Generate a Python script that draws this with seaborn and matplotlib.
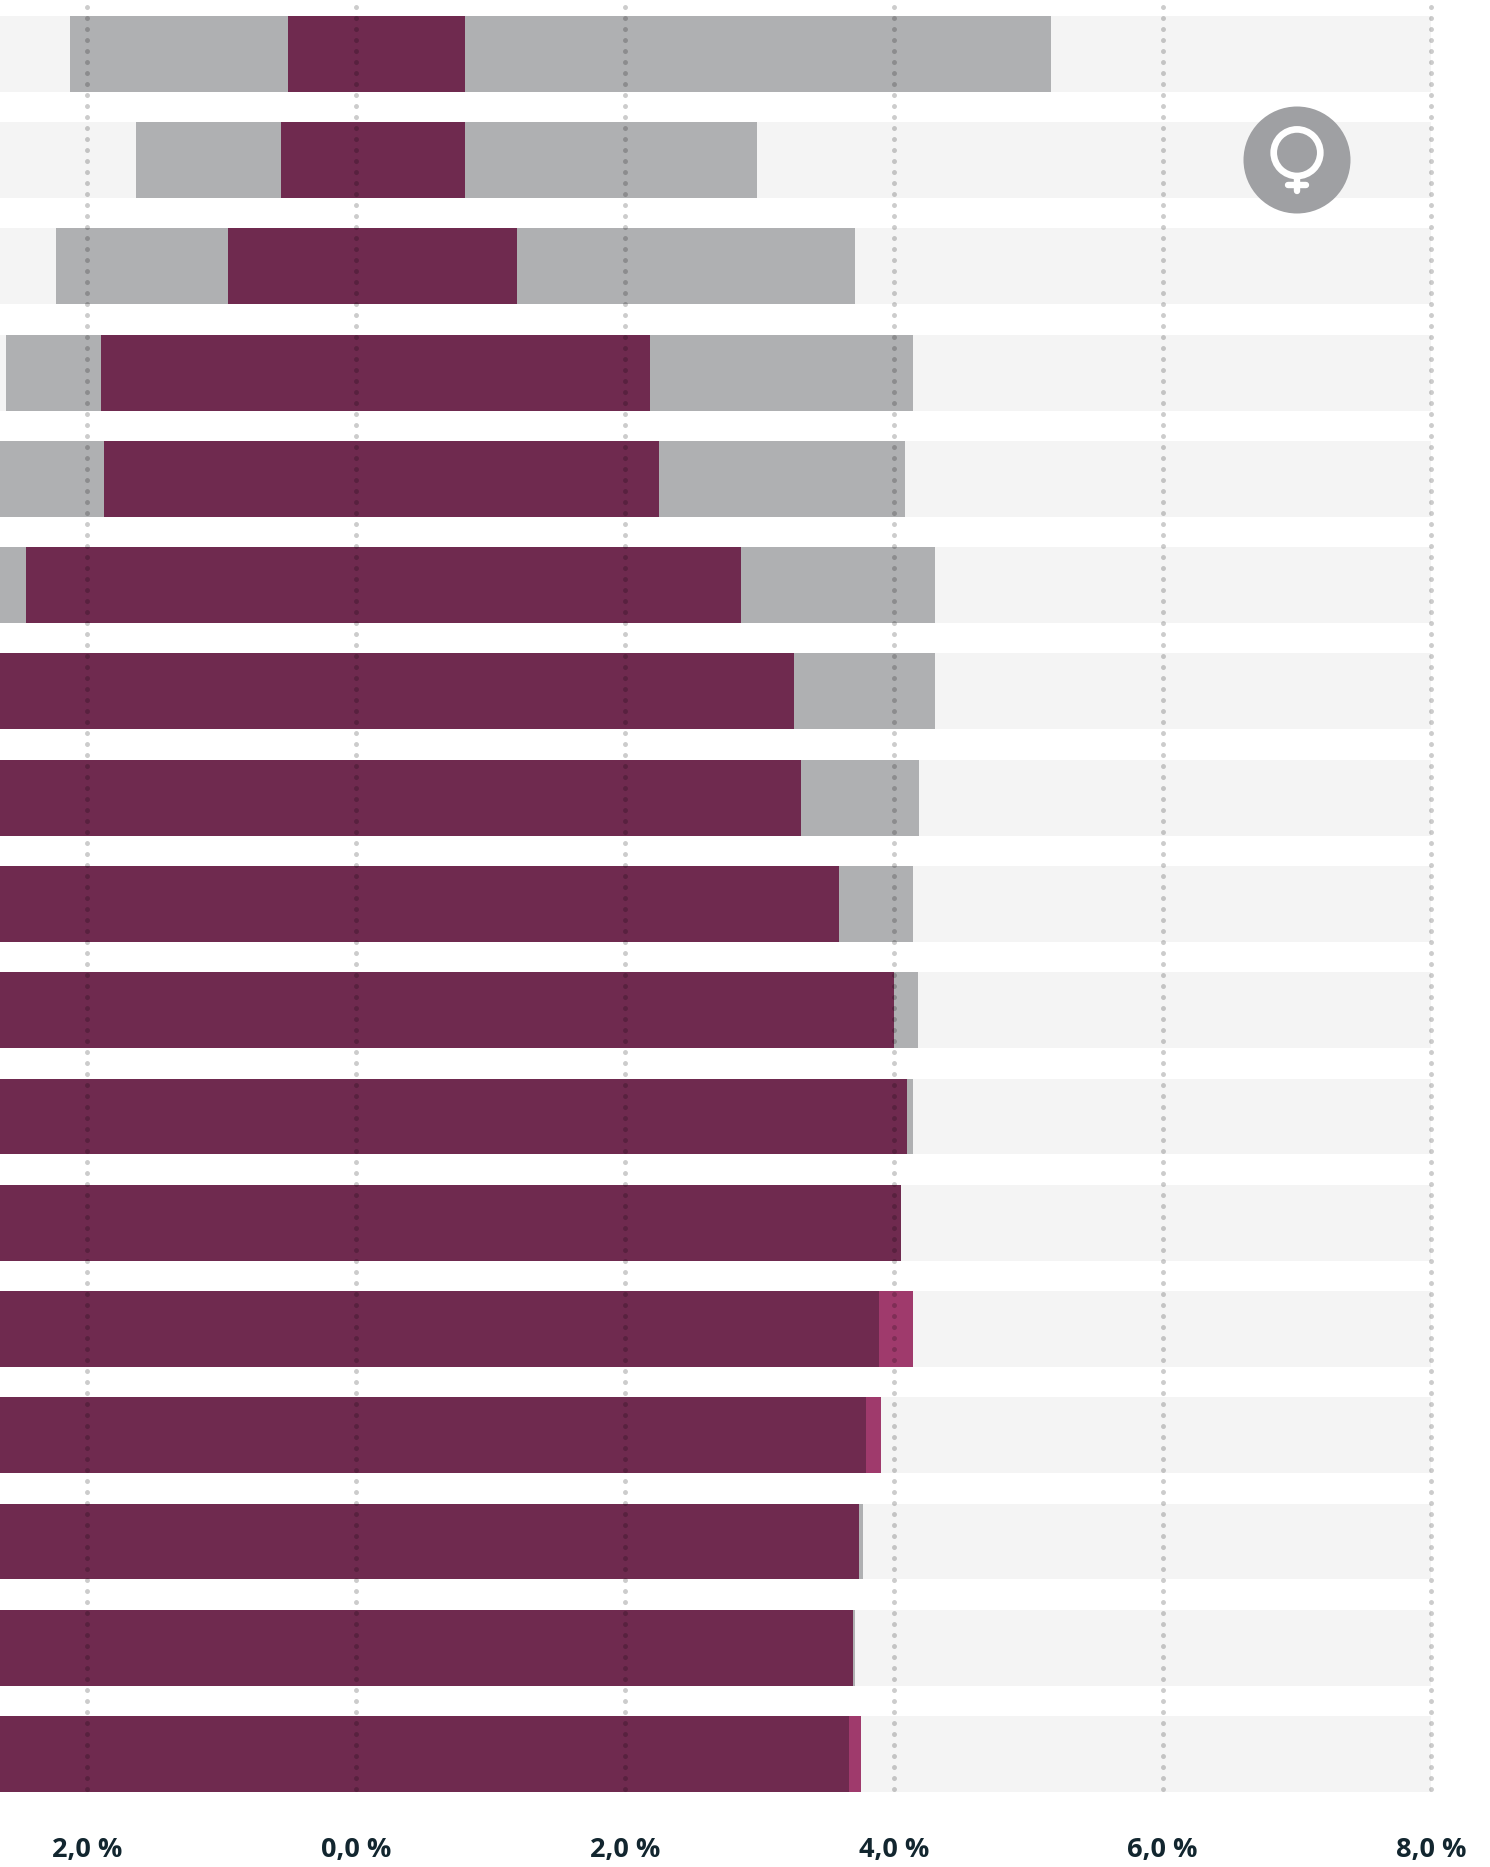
import matplotlib
matplotlib.use('Agg')
import numpy as np
import pandas as pd
import matplotlib.pyplot as plt
import seaborn as sns
from matplotlib.lines import Line2D
from matplotlib.patches import Circle
from matplotlib.transforms import IdentityTransform

#Data (percent), one value per row from top to bottom
rows = [str(i) for i in range(1, 18)]
grey_low = [-2.13, -1.64, -2.23, -2.605, -3.0, -3.0, -3.0, -3.0, -3.0, -3.0, -3.0, -3.0,
            np.nan, np.nan, -3.0, -3.0, np.nan]
grey_high = [5.17, 2.98, 3.71, 4.143, 4.085, 4.307, 4.307, 4.19, 4.143, 4.178, 4.143, np.nan,
             np.nan, np.nan, 3.77, 3.712, np.nan]
bright_high = [np.nan] * 12 + [4.143, 3.906, np.nan, np.nan, 3.757]
purple_low = [-0.505, -0.558, -0.95, -1.896, -1.879, -2.455, -3.0, -3.0, -3.0, -3.0, -3.0, -3.0,
              -3.0, -3.0, -3.0, -3.0, -3.0]
purple_high = [0.812, 0.812, 1.196, 2.189, 2.251, 2.862, 3.257, 3.31, 3.595, 4.003, 4.097, 4.055,
               3.891, 3.794, 3.742, 3.697, 3.667]
track_low = [-3.0] * 17
track_high = [8.0] * 17
ticks = [-2, 0, 2, 4, 6, 8]
tick_labels = ['2,0 %', '0,0 %', '2,0 %', '4,0 %', '6,0 %', '8,0 %']

LIGHT = '#f4f4f4'
GREY = '#afb0b2'
PURPLE = '#6f2a4f'
BRIGHT = '#9f3a6c'

sns.set_theme(style='white')
plt.rcParams['font.family'] = ['Open Sans', 'DejaVu Sans']

W, H = 1490, 1867
fig = plt.figure(figsize=(W / 100, H / 100), dpi=100)
ax = fig.add_axes([0, (H - 1800) / H, 1, 1800 / H])

#Every layer is a pair of bars going out from zero
layers = [(track_low, LIGHT), (track_high, LIGHT),
          (grey_low, GREY), (grey_high, GREY),
          (bright_high, BRIGHT),
          (purple_low, PURPLE), (purple_high, PURPLE)]
for values, colour in layers:
    df = pd.DataFrame({'row': rows, 'value': values})
    sns.barplot(data=df, x='value', y='row', order=rows, orient='h', color=colour,
                saturation=1, width=0.715, errorbar=None, linewidth=0, ax=ax)

ax.set_xlim(-356.1 / 134.4, (W - 356.1) / 134.4)
ax.set_ylim(16.433, -0.508)

#Dotted grid on top of the bars, a zero length dash does not get drawn
for t in ticks:
    ax.plot([t, t], [-0.442, 16.36], color='black', alpha=0.2, lw=3.6,
            linestyle=(0, (0.01, 2.19)), dash_capstyle='round', zorder=3)

ax.set_xticks(ticks)
ax.set_xticklabels(tick_labels, fontsize=19.5, fontweight='bold', color='#12262f')
ax.tick_params(axis='x', length=0, pad=26.5)
ax.set_yticks([])
ax.set_xlabel('')
ax.set_ylabel('')
sns.despine(ax=ax, left=True, bottom=True)

#Venus badge, placed in pixels
px = IdentityTransform()
cx = 1297
fig.add_artist(Circle((cx, H - 160), 53.5, color='#9fa0a3', lw=0, transform=px))
fig.add_artist(Circle((cx, H - 152.7), 23.3, fc='none', ec='white', lw=4.8, transform=px))
fig.add_artist(Line2D([cx, cx], [H - 178, H - 191], color='white', lw=4.6,
                      solid_capstyle='round', transform=px))
fig.add_artist(Line2D([cx - 9, cx + 9], [H - 185, H - 185], color='white', lw=4.6,
                      solid_capstyle='round', transform=px))

fig.savefig('out.png', dpi=100)
